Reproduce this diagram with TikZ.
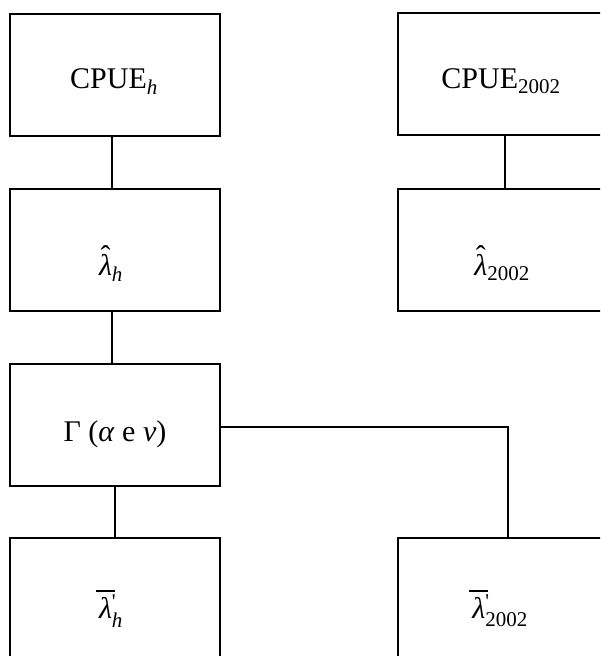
\documentclass[tikz,border=0pt]{standalone}
\usepackage{fontspec}
\usepackage{amsmath}
\setmainfont{Liberation Serif}
\newcommand{\lamhat}{\ooalign{\itshape λ\cr\hidewidth\raisebox{0.3em}{\upshape ˆ}\hidewidth\cr}}
\newcommand{\lambar}{\ooalign{\itshape λ\cr\hidewidth\rule[0.88em]{0.62em}{0.05em}\hidewidth\cr}}
\begin{document}
\begin{tikzpicture}[x=1pt,y=-1pt,
  box/.style={draw, line width=2pt, minimum width=210pt, minimum height=122pt, inner sep=0pt},
  lbl/.style={anchor=base, font=\fontsize{30}{36}\selectfont, inner sep=0pt},
  conn/.style={line width=2pt}]
\useasboundingbox (0,0) rectangle (600,656);
\clip (0,0) rectangle (600,656);
% boxes
\node[box] (cpueh) at (115,74.5) {};
\node[box] (cpuey) at (503,74) {};
\node[box] (lamh) at (115,250) {};
\node[box] (lamy) at (503,249.5) {};
\node[box] (gam) at (115,424.5) {};
\node[box] (barh) at (115,599) {};
\node[box] (bary) at (503,599) {};
% labels
\node[lbl] (tcpueh) at (114,88) {CPUE$_{\text{\itshape h}}$};
\node[lbl] (tcpuey) at (501,88) {CPUE$_{\text{2002}}$};
\node[lbl] (tlamh) at (111,275) {\lamhat$_{\text{\itshape h}}$};
\node[lbl] (tlamy) at (502,275) {\lamhat$_{\text{2002}}$};
\node[lbl] (tgam) at (115,441) {Γ (\textit{α} e \textit{ν})};
\node[lbl] (tbarh) at (111,618) {\lambar$^{\text{\textquotesingle}}_{\text{\itshape h}}$};
\node[lbl] (tbary) at (500,618) {\lambar$^{\text{\textquotesingle}}_{\text{2002}}$};
% connectors
\draw[conn] ([xshift=-3pt]cpueh.south) -- ([xshift=-3pt]lamh.north);
\draw[conn] ([xshift=-3pt]lamh.south) -- ([xshift=-3pt]gam.north);
\draw[conn] (gam.south) -- (barh.north);
\draw[conn] ([xshift=2pt]cpuey.south) -- ([xshift=2pt]lamy.north);
\coordinate (bend) at (508,427);
\draw[conn] (gam.east |- bend) -- (bend) -- (bend |- bary.north);
\end{tikzpicture}
\end{document}
